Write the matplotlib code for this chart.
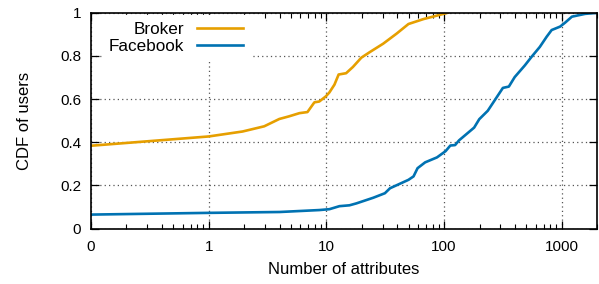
import matplotlib.pyplot as plt
from matplotlib.ticker import LogLocator, NullFormatter

# x = 0 is drawn at 0.1 on the log axis (labelled "0")
broker_x = [0.1, 1, 1.94, 2.96, 3.98, 4.8, 5.9, 6.9, 7.9, 8.7, 9.9, 10.6, 11.7,
            12.7, 14.7, 16.8, 19.8, 23.4, 30.4, 39.6, 49.8, 67, 87, 107]
broker_y = [0.384, 0.427, 0.450, 0.474, 0.508, 0.520, 0.535, 0.540, 0.585, 0.589,
            0.613, 0.631, 0.667, 0.714, 0.720, 0.749, 0.792, 0.818, 0.857, 0.904,
            0.948, 0.971, 0.987, 1.0]

facebook_x = [0.1, 1, 4, 8.7, 10.6, 12.9, 15.7, 18, 25, 31.4, 34.7, 49.8, 55, 59.5,
              69, 87, 103, 113, 124, 134, 180, 199, 235, 268, 316, 355, 398, 485,
              552, 651, 744, 820, 968, 1066, 1219, 1580, 2000]
facebook_y = [0.065, 0.073, 0.077, 0.086, 0.09, 0.104, 0.108, 0.117, 0.143, 0.164,
              0.187, 0.226, 0.242, 0.280, 0.307, 0.330, 0.359, 0.385, 0.387, 0.409,
              0.468, 0.507, 0.546, 0.593, 0.652, 0.658, 0.702, 0.756, 0.795, 0.842,
              0.889, 0.920, 0.936, 0.954, 0.982, 0.995, 1.0]

x_ticks = [0.1, 1, 10, 100, 1000]
x_labels = ["0", "1", "10", "100", "1000"]
y_ticks = [0, 0.2, 0.4, 0.6, 0.8, 1]
y_labels = ["0", "0.2", "0.4", "0.6", "0.8", "1"]

plt.rcParams["font.family"] = ["Liberation Sans", "DejaVu Sans"]

fig, ax = plt.subplots(figsize=(5.99, 2.84), dpi=100)
fig.subplots_adjust(left=0.152, right=0.997, top=0.955, bottom=0.195)

ax.plot(broker_x, broker_y, color="#E69F00", linewidth=1.9, label="Broker")
ax.plot(facebook_x, facebook_y, color="#0072B2", linewidth=1.9, label="Facebook")

ax.set_xscale("log")
ax.set_xlim(0.1, 2000)
ax.set_ylim(0, 1)
ax.set_xticks(x_ticks)
ax.set_xticklabels(x_labels)
ax.xaxis.set_minor_locator(LogLocator(base=10, subs=range(2, 10), numticks=20))
ax.xaxis.set_minor_formatter(NullFormatter())
ax.set_yticks(y_ticks)
ax.set_yticklabels(y_labels)

ax.grid(True, which="major", linestyle=(0, (1, 2.5)), color="#555555", linewidth=0.9)

ax.tick_params(which="both", direction="in", top=True, right=True, labelsize=11,
               colors="black")
ax.tick_params(axis="x", pad=8)
ax.tick_params(axis="y", pad=7)
ax.tick_params(which="major", length=6, width=0.9)
ax.tick_params(which="minor", length=3.5, width=0.8)

for spine in ax.spines.values():
    spine.set_linewidth(1.2)

ax.set_xlabel("Number of attributes", fontsize=12, labelpad=6)
ax.set_ylabel("CDF of users", fontsize=12, labelpad=20)

legend = ax.legend(loc="upper left", markerfirst=False, frameon=True, fontsize=12.3,
                   handlelength=2.65, handletextpad=0.8, borderaxespad=0.2,
                   labelspacing=0.1, fancybox=False, edgecolor="white",
                   framealpha=1, bbox_to_anchor=(0.014, 1.005))
for text in legend.get_texts():
    text.set_ha("right")
legend._legend_box.align = "right"

plt.savefig("out.png", dpi=100)
